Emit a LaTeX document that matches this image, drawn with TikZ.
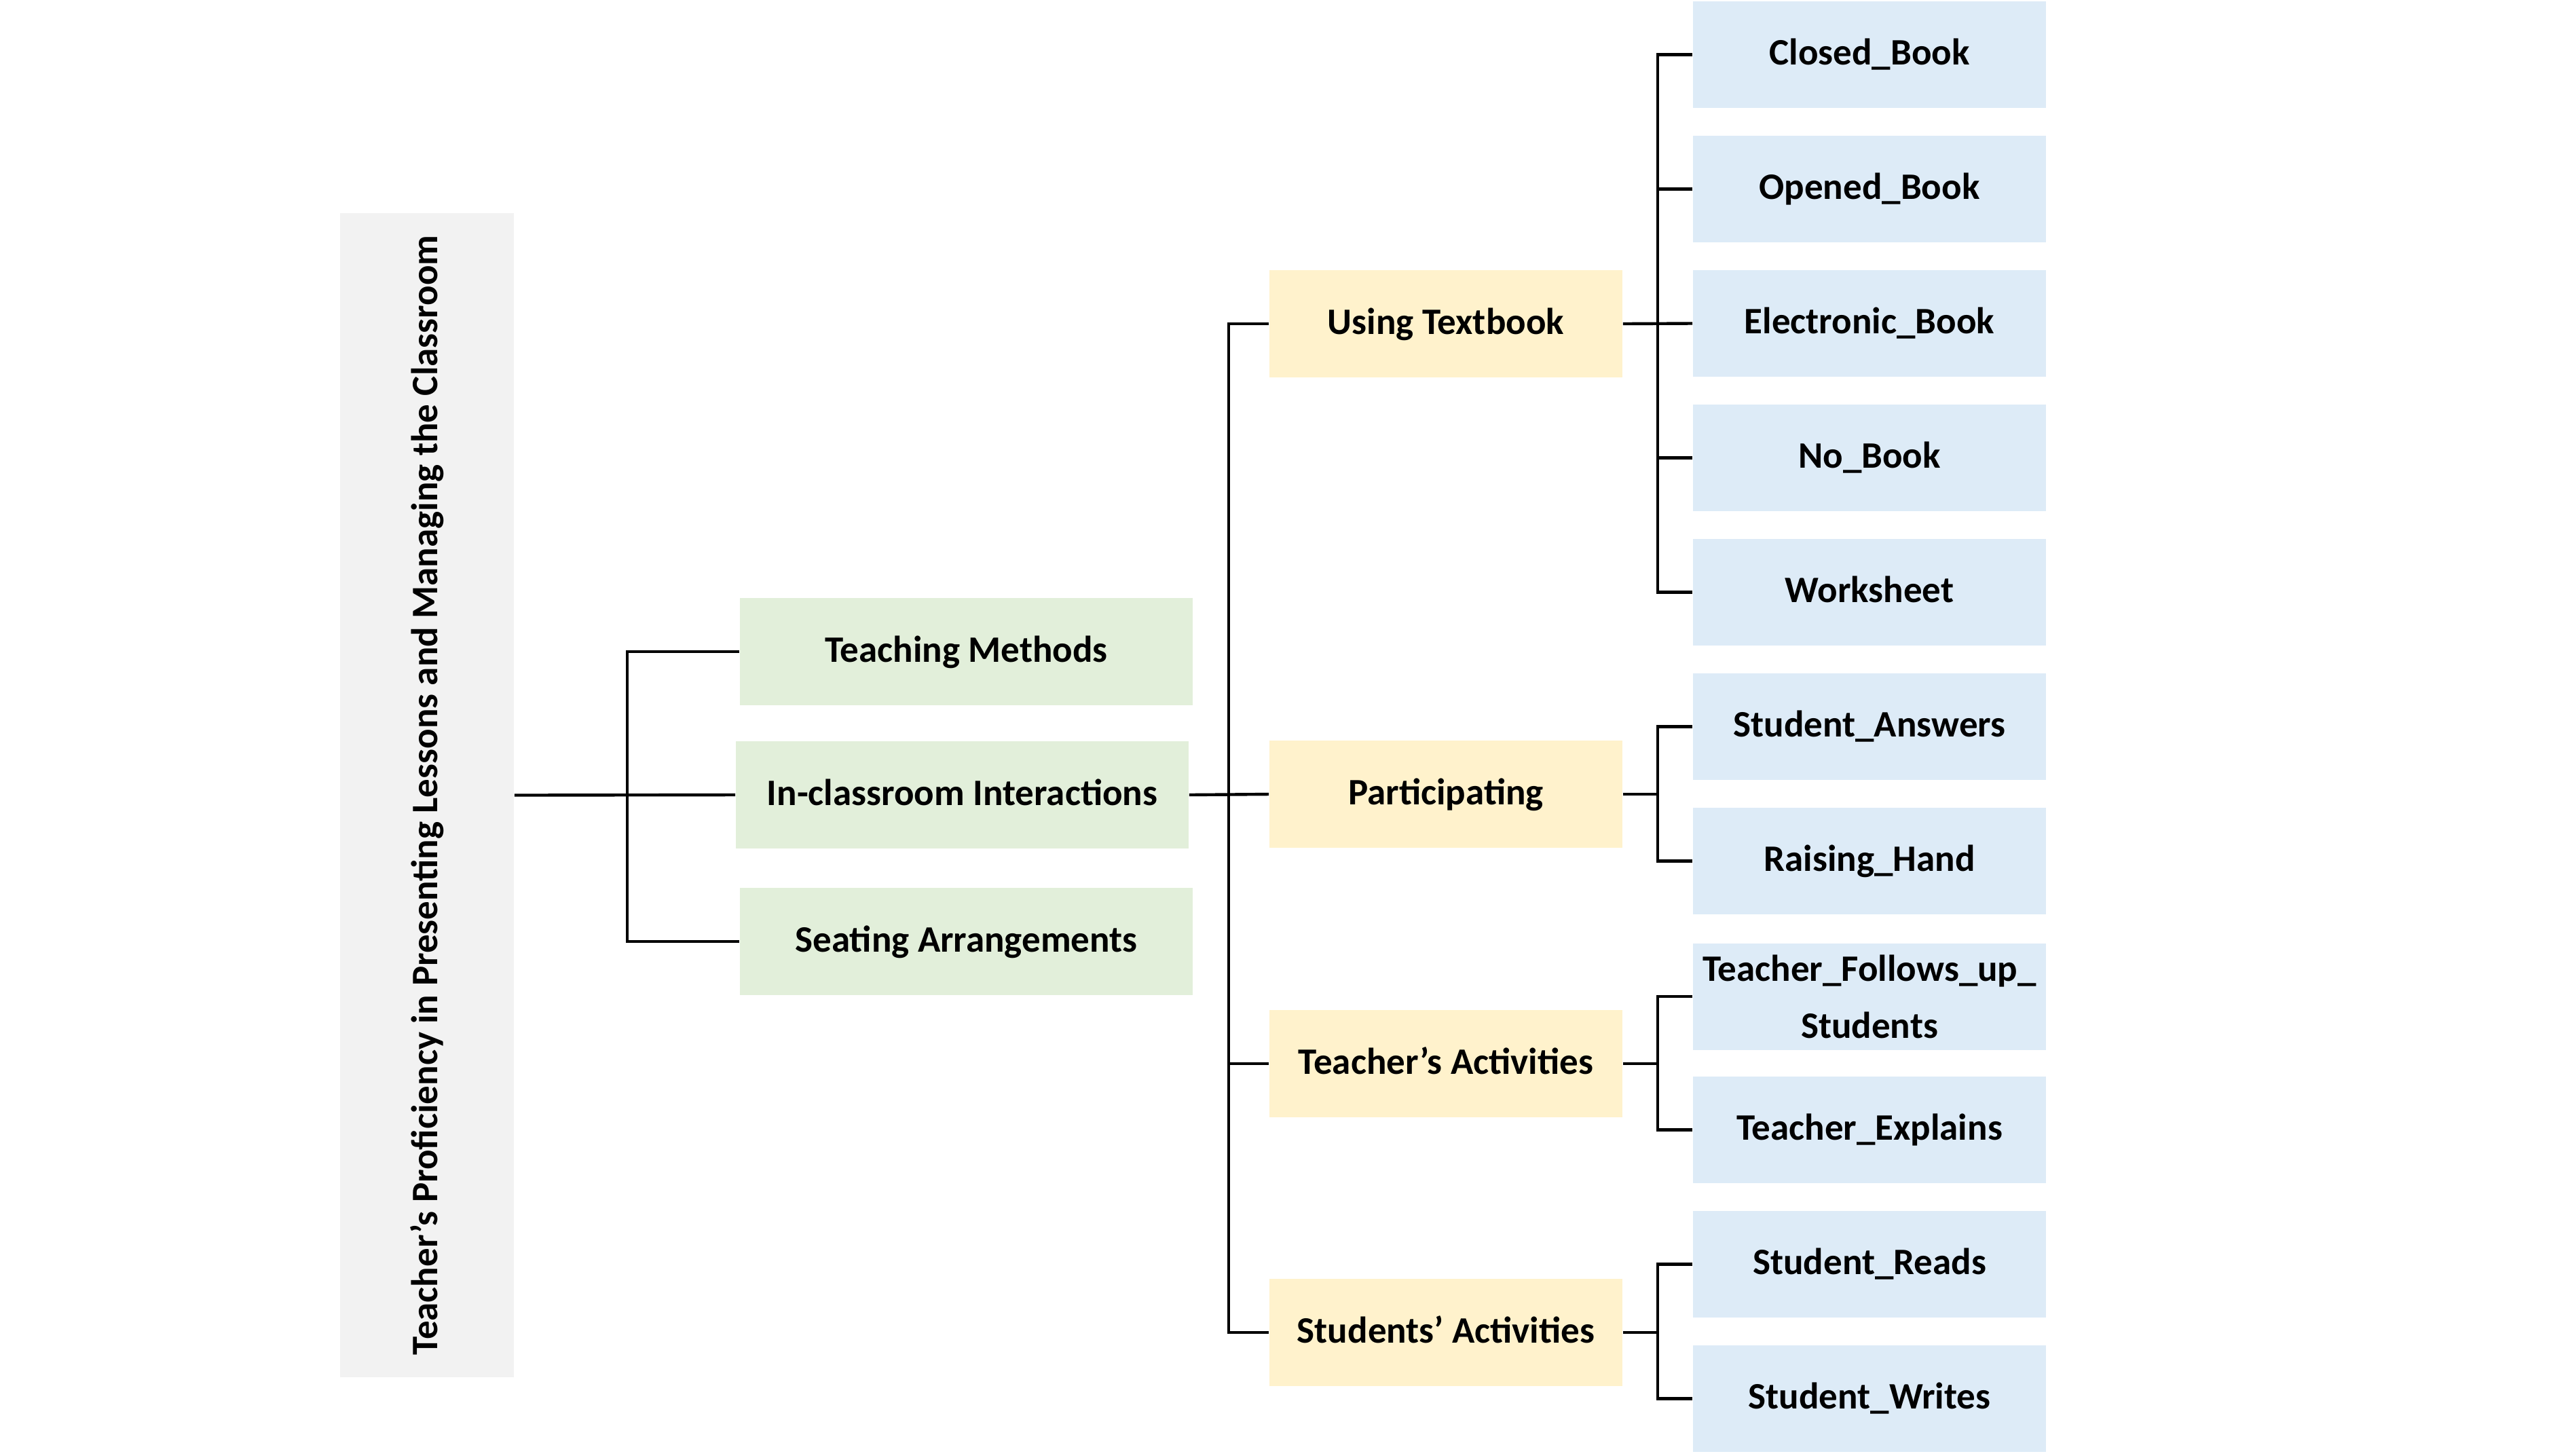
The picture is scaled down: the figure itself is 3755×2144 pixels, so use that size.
\documentclass[tikz,border=0pt]{standalone}
\usepackage{fontspec}
\setmainfont{Carlito}
\definecolor{greyfill}{HTML}{F2F2F2}
\definecolor{greenfill}{HTML}{E2EFDA}
\definecolor{yellowfill}{HTML}{FFF2CC}
\definecolor{bluefill}{HTML}{DDEBF7}
\tikzset{
  boxbase/.style={draw=none, inner sep=0pt, align=center,
    font=\bfseries\fontsize{13.75}{21}\selectfont},
  oneline/.style={text height=0.86em, text depth=0.1em},
  greenbox/.style={boxbase, oneline, fill=greenfill, minimum width=166.75pt, minimum height=39.5pt},
  yellowbox/.style={boxbase, oneline, fill=yellowfill, minimum width=130pt, minimum height=39.5pt},
  bluebox/.style={boxbase, fill=bluefill, minimum width=130pt, minimum height=39.25pt},
  blueone/.style={bluebox, oneline},
  greybox/.style={draw=none, fill=greyfill, inner sep=0pt, minimum width=64pt, minimum height=428.75pt},
  conn/.style={line width=1.1pt, draw=black}
}
\begin{document}
\begin{tikzpicture}[x=0.25pt, y=-0.25pt]
\useasboundingbox (0,0) rectangle (3755,2144);
% root
\node[greybox] (root) at (629,1171.5) {};
\node[boxbase, rotate=90] (roottext) at (root.center) {Teacher’s Proficiency in Presenting Lessons and Managing the Classroom};
% level 1
\node[greenbox] (tm) at (1423.5,960) {Teaching Methods};
\node[greenbox] (ic) at (1417.5,1171) {In-classroom Interactions};
\node[greenbox] (sa) at (1423.5,1387) {Seating Arrangements};
% level 2
\node[yellowbox] (ut) at (2130,477) {Using Textbook};
\node[yellowbox] (pa) at (2130,1170) {Participating};
\node[yellowbox] (ta) at (2130,1567) {Teacher’s Activities};
\node[yellowbox] (st) at (2130,1963) {Students’ Activities};
% level 3
\node[blueone] (cb) at (2754,80.5) {Closed\_Book};
\node[blueone] (ob) at (2754,278.5) {Opened\_Book};
\node[blueone] (eb) at (2754,476.5) {Electronic\_Book};
\node[blueone] (nb) at (2754,674.5) {No\_Book};
\node[blueone] (ws) at (2754,872.5) {Worksheet};
\node[blueone] (san) at (2754,1070.5) {Student\_Answers};
\node[blueone] (rh) at (2754,1268.5) {Raising\_Hand};
\node[bluebox] (tf) at (2754,1468) {Teacher\_Follows\_up\_\\Students};
\node[blueone] (te) at (2754,1664.5) {Teacher\_Explains};
\node[blueone] (sr) at (2754,1862.5) {Student\_Reads};
\node[blueone] (sw) at (2754,2060.5) {Student\_Writes};
% bus coordinates
\coordinate (b1) at (924,1171);
\coordinate (b2) at (1810,1170);
\coordinate (bu) at (2442,477);
\coordinate (bp) at (2442,1170);
\coordinate (bt) at (2442,1567);
\coordinate (bs) at (2442,1963);
% level 0-1
\draw[conn] (root.east) -- (ic.west);
\draw[conn] (tm.west) -| (b1) |- (sa.west);
% level 1-2
\draw[conn] (ic.east) -- (pa.west);
\draw[conn] (ut.west) -| (b2) |- (st.west);
\draw[conn] (ta.west) -- (ta.west -| b2);
% level 2-3
\draw[conn] (ut.east) -- (eb.west);
\draw[conn] (cb.west) -| (bu) |- (ws.west);
\draw[conn] (ob.west) -- (ob.west -| bu);
\draw[conn] (nb.west) -- (nb.west -| bu);
\draw[conn] (pa.east) -- (bp);
\draw[conn] (san.west) -| (bp) |- (rh.west);
\draw[conn] (ta.east) -- (bt);
\draw[conn] (tf.west) -| (bt) |- (te.west);
\draw[conn] (st.east) -- (bs);
\draw[conn] (sr.west) -| (bs) |- (sw.west);
\end{tikzpicture}
\end{document}
